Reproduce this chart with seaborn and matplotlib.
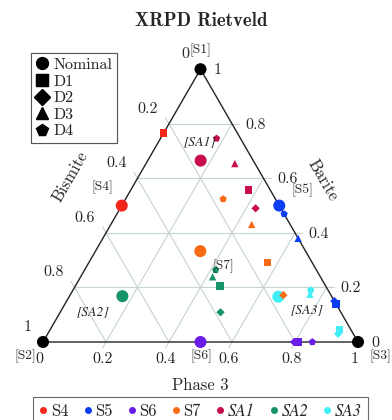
import numpy as np
import pandas as pd
import matplotlib
matplotlib.use("Agg")
import matplotlib.pyplot as plt
from matplotlib.lines import Line2D
import seaborn as sns

# --- data: Barite (top vertex) and Phase 3 (bottom-right vertex) fractions; Bismite = rest
point_sample = ['SA3', 'SA3', 'SA3', 'SA3', 'SA3',
                'SA2', 'SA2', 'SA2', 'SA2', 'SA2',
                'SA1', 'SA1', 'SA1', 'SA1', 'SA1',
                'S7', 'S7', 'S7', 'S7', 'S7',
                'S6', 'S6', 'S6', 'S6',
                'S5', 'S5', 'S5', 'S5', 'S5',
                'S4', 'S4',
                'S1', 'S2', 'S3']
point_variant = ['Nominal', 'D1', 'D2', 'D3', 'D4',
                 'Nominal', 'D1', 'D2', 'D3', 'D4',
                 'Nominal', 'D1', 'D2', 'D3', 'D4',
                 'Nominal', 'D1', 'D2', 'D3', 'D4',
                 'Nominal', 'D1', 'D2', 'D4',
                 'Nominal', 'D1', 'D2', 'D3', 'D4',
                 'Nominal', 'D1',
                 'Nominal', 'Nominal', 'Nominal']
point_barite = [0.166, 0.045, 0.030, 0.175, 0.190,
                0.168, 0.205, 0.109, 0.239, 0.264,
                0.665, 0.557, 0.490, 0.654, 0.746,
                0.333, 0.292, 0.172, 0.431, 0.524,
                0.0, 0.0, 0.0, 0.0,
                0.50, 0.139, 0.150, 0.380, 0.469,
                0.50, 0.766,
                1.0, 0.0, 0.0]
point_phase3 = [0.664, 0.918, 0.922, 0.760, 0.755,
                0.168, 0.459, 0.509, 0.419, 0.416,
                0.168, 0.373, 0.430, 0.282, 0.178,
                0.333, 0.566, 0.677, 0.447, 0.310,
                0.50, 0.810, 0.797, 0.855,
                0.50, 0.861, 0.850, 0.620, 0.531,
                0.0, 0.0,
                0.0, 0.0, 1.0]

legend_samples = ['S4', 'S5', 'S6', 'S7', 'SA1', 'SA2', 'SA3']
legend_variants = ['Nominal', 'D1', 'D2', 'D3', 'D4']
tick_values = [0, 0.2, 0.4, 0.6, 0.8, 1]
tick_labels = ['0', '0.2', '0.4', '0.6', '0.8', '1']
grid_values = [0.2, 0.4, 0.6, 0.8]

colors = {'S1': 'black', 'S2': 'black', 'S3': 'black',
          'S4': '#f4261c', 'S5': '#0c3cf4', 'S6': '#6a1ce8', 'S7': '#f96a15',
          'SA1': '#c80d4e', 'SA2': '#17936a', 'SA3': '#40eef6'}
markers = {'Nominal': 'o', 'D1': 's', 'D2': 'D', 'D3': '^', 'D4': 'p'}
sizes = {'Nominal': 75, 'D1': 28, 'D2': 18, 'D3': 28, 'D4': 30}

H = np.sqrt(3) / 2
SC = 315.0  # pixels per data unit


def px(x, y):
    # pixel position in the 392x420 picture -> data coords
    return (x - 43) / SC, (342 - y) / SC


df = pd.DataFrame({'sample': point_sample, 'variant': point_variant,
                   'barite': point_barite, 'phase3': point_phase3})
df['x'] = df['phase3'] + df['barite'] / 2
df['y'] = df['barite'] * H

sns.set_style('white')
plt.rcParams['font.family'] = ['cmr10', 'DejaVu Serif']
plt.rcParams['axes.formatter.use_mathtext'] = True

fig = plt.figure(figsize=(3.92, 4.2), dpi=100)
ax = fig.add_axes([0, 0, 1, 1])
ax.set_xlim(-43 / SC, (392 - 43) / SC)
ax.set_ylim((342 - 420) / SC, 342 / SC)
ax.set_axis_off()

# grid lines with short ticks past the labelled edge
gc = '#c6d3d5'
t = 7 / SC
for v in grid_values:
    # Barite constant: horizontal, ticks to the right
    ax.plot([v / 2, 1 - v / 2 + t], [v * H, v * H], color=gc, lw=0.8, zorder=1)
    # Bismite constant: parallel to right edge, ticks up-left
    b = 1 - v
    ax.plot([1 - v, b / 2 - 0.5 * t], [0, b * H + H * t], color=gc, lw=0.8, zorder=1)
    # Phase 3 constant: parallel to left edge, ticks down-left
    ax.plot([v - 0.5 * t, v + (1 - v) / 2], [-H * t, (1 - v) * H], color=gc, lw=0.8, zorder=1)

ax.plot([0, 1, 0.5, 0], [0, 0, H, 0], color='#222222', lw=1.0, zorder=2)

sns.scatterplot(data=df, x='x', y='y', hue='sample', palette=colors,
                style='variant', markers=markers, size='variant', sizes=sizes,
                edgecolor='none', linewidth=0, legend=False, ax=ax, zorder=3)

fs = 11.5
for v, lab in zip(tick_values, tick_labels):
    b = 1 - v
    ax.text(b / 2 - 11 / SC, b * H + 15 / SC, lab, ha='right', va='center', fontsize=fs)
    ax.text(1 - v / 2 + 13.5 / SC, v * H - 1 / SC, lab, ha='left', va='center', fontsize=fs)
    ax.text(v - 3.5 / SC, -17 / SC, lab, ha='center', va='center', fontsize=fs)

sfs = 9.8
for lab, (x, y) in {'[S1]': (200, 50), '[S2]': (25, 356), '[S3]': (380, 356),
                    '[S4]': (102, 187), '[S5]': (302, 190), '[S6]': (201, 356),
                    '[S7]': (223, 266)}.items():
    ax.text(*px(x, y), lab, ha='center', va='center', fontsize=sfs)
for lab, (x, y) in {'[SA1]': (200, 142), '[SA2]': (93, 312), '[SA3]': (307, 310)}.items():
    ax.text(*px(x, y), lab, ha='center', va='center', fontsize=sfs,
            family='STIXGeneral', style='italic')

ax.text(*px(70, 177), 'Bismite', rotation=60, ha='center', va='center', fontsize=12)
ax.text(*px(323, 180), 'Barite', rotation=-60, ha='center', va='center', fontsize=12)
ax.text(*px(200, 385), 'Phase 3', ha='center', va='center', fontsize=12)
ax.text(*px(201, 21), 'XRPD Rietveld', ha='center', va='center', fontsize=13.6,
        family=['cmb10', 'DejaVu Serif'])

# marker legend
mh = [Line2D([], [], ls='none', marker=markers[v], color='black', markersize=8.5)
      for v in legend_variants]
leg1 = ax.legend(mh, legend_variants, loc='upper left',
                 bbox_to_anchor=(31 / 392, 1 - 53 / 420), bbox_transform=fig.transFigure,
                 fontsize=fs, frameon=True, fancybox=False, edgecolor='#444444',
                 handlelength=0.8, handletextpad=0.3, labelspacing=0.15,
                 borderpad=0.3, borderaxespad=0)
leg1.get_frame().set_linewidth(0.8)
ax.add_artist(leg1)

# sample legend
ch = [Line2D([], [], ls='none', marker='o', color=colors[s], markersize=4)
      for s in legend_samples]
leg2 = fig.legend(ch, legend_samples, loc='upper center', ncol=7,
                  bbox_to_anchor=(200.5 / 392, 1 - 397 / 420),
                  fontsize=12, frameon=True, fancybox=False, edgecolor='#444444',
                  handlelength=0.5, handletextpad=0.2, columnspacing=0.9,
                  borderpad=0.35, borderaxespad=0)
leg2.get_frame().set_linewidth(0.8)
for txt in leg2.get_texts():
    if txt.get_text().startswith('SA'):
        txt.set_family('STIXGeneral')
        txt.set_style('italic')

fig.savefig('out.png', dpi=100)
